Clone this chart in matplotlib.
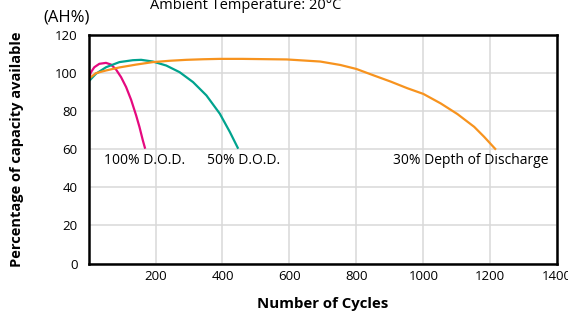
import matplotlib
matplotlib.use("Agg")
import matplotlib.pyplot as plt

plt.rcParams['font.family'] = ['Open Sans', 'DejaVu Sans']

dod100_x = [0, 7, 17, 32, 52, 67, 82, 97, 112, 127, 142, 152, 162, 169]
dod100_y = [97, 100.5, 103.1, 104.9, 105.4, 104.5, 101.9, 97.9, 92.7, 86, 77.8, 71.7, 64.7, 60.3]

dod50_x = [0, 22, 52, 92, 132, 157, 192, 232, 272, 312, 352, 392, 422, 447]
dod50_y = [95.6, 99.7, 103.1, 105.8, 106.8, 107, 106.1, 104, 100.5, 95.3, 88.3, 78.7, 69.1, 60.3]

dod30_x = [0, 22, 52, 92, 142, 192, 242, 292, 342, 392, 458, 592, 692, 752, 800,
           852, 902, 952, 1000, 1052, 1102, 1152, 1182, 1217]
dod30_y = [97, 100, 101.4, 103, 104.5, 105.8, 106.5, 107, 107.3, 107.5, 107.5, 107.2, 106.1, 104.3, 102.2,
           98.8, 95.6, 92.1, 89.1, 84.1, 78.5, 71.8, 66.5, 59.8]

x_ticks = [200, 400, 600, 800, 1000, 1200, 1400]
y_ticks = [0, 20, 40, 60, 80, 100, 120]

fig = plt.figure(figsize=(5.68, 3.16), dpi=100)
ax = fig.add_axes([0.156, 0.166, 0.825, 0.723])

ax.plot(dod100_x, dod100_y, color='#E5097F', lw=1.6, solid_capstyle='butt', solid_joinstyle='round')
ax.plot(dod50_x, dod50_y, color='#00A38E', lw=1.6, solid_capstyle='butt', solid_joinstyle='round')
ax.plot(dod30_x, dod30_y, color='#F7931E', lw=1.6, solid_capstyle='butt', solid_joinstyle='round')

ax.set_xlim(0, 1400)
ax.set_ylim(0, 120)
ax.set_xticks(x_ticks)
ax.set_yticks(y_ticks)
ax.tick_params(length=0, labelsize=9.5)
ax.tick_params(axis='x', pad=5)
ax.tick_params(axis='y', pad=8)
ax.grid(True, color='#D9D9D9', lw=1.1)
ax.set_axisbelow(True)
for s in ax.spines.values():
    s.set_linewidth(1.8)
    s.set_color('black')

ax.text(47, 54, '100% D.O.D.', fontsize=10, va='center')
ax.text(355, 54, '50% D.O.D.', fontsize=10, va='center')
ax.text(910, 54, '30% Depth of Discharge', fontsize=10, va='center')

ax.set_xlabel('Number of Cycles', fontsize=10.8, fontweight='bold', labelpad=10)
ax.set_ylabel('Percentage of capacity available', fontsize=10.5, fontweight='bold', labelpad=22)

fig.text(246 / 568, 1 - 9 / 316, 'Ambient Temperature: 20°C', fontsize=10.5,
         ha='center', va='baseline')
fig.text(67 / 568, 1 - 18 / 316, '(AH%)', fontsize=12, ha='center', va='center')

fig.savefig('out.png', dpi=100)
